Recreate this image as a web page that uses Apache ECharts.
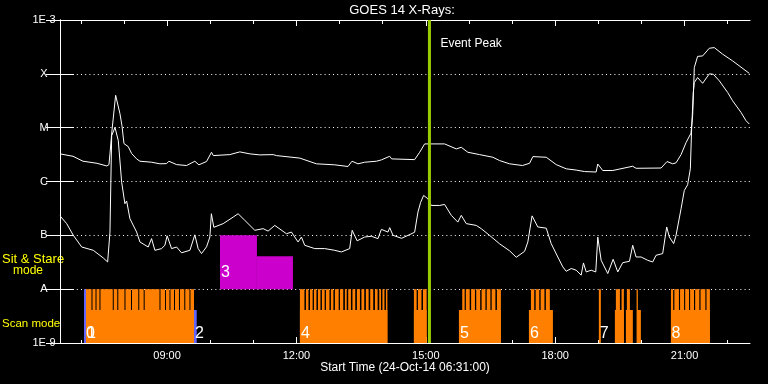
<!DOCTYPE html>
<html><head><meta charset="utf-8">
<script src="https://cdn.jsdelivr.net/npm/echarts@6/dist/echarts.min.js"></script>
<style>html,body{margin:0;padding:0;background:#000}#c{width:768px;height:384px}</style>
</head><body><div id="c"></div>
<script>
// Time axis in minutes since the start time 24-Oct-14 06:31:00
const START_MIN = 6 * 60 + 31;
const AXIS_MAX = 960;
const majorTicks = [149, 329, 509, 689, 869];            // 09:00 ... 21:00
const minorTicks = [29, 89, 209, 269, 389, 449, 569, 629, 749, 809, 929];
const yTickLabels = { '-9': '1E-9', '-8': 'A', '-7': 'B', '-6': 'C', '-5': 'M', '-4': 'X', '-3': '1E-3' };
const eventPeak = 514; // 15:05

// GOES 14 long channel (upper curve), W/m^2
const longTime = [0,18.1,32,51.4,65.3,68.1,69.5,72.3,77.4,83.4,86.2,89,91.7,94.9,99.7,106.6,111.2,127.4,139,148.3,151.5,162.2,176.1,187.6,193.2,203.9,210.8,213.3,236.3,250.2,264.1,278,296.5,301.2,333.6,356.8,382.2,400.7,406.3,414.6,423.9,440.2,447.1,458.7,461.4,493.4,500.4,507.3,514.3,535.1,551.4,558.3,567.5,583.8,602.2,611.6,625.5,643.5,653.3,657.9,676.5,690.4,704.3,718.2,729.7,745.9,748.2,755.1,769,796.8,801.5,836.3,844.6,852.4,857.1,864.1,871,877.9,880.2,882.5,887.1,894.1,903.4,910.3,921.9,935.8,959];
const longFlux = [3.26e-6,2.94e-6,2.38e-6,2.18e-6,1.94e-6,2.06e-6,3.26e-6,8.8e-6,4.0e-5,1.82e-5,1.09e-5,5.05e-6,4.84e-6,4.45e-6,3.30e-6,2.63e-6,2.38e-6,2.28e-6,2.13e-6,2.15e-6,2.38e-6,2.06e-6,1.98e-6,2.38e-6,2.04e-6,2.35e-6,3.49e-6,3.03e-6,3.16e-6,3.55e-6,3.26e-6,3.12e-6,3.16e-6,3.03e-6,2.72e-6,2.13e-6,2.04e-6,1.90e-6,2.38e-6,2.13e-6,2.28e-6,2.38e-6,2.52e-6,2.94e-6,2.63e-6,2.55e-6,3.49e-6,4.99e-6,4.99e-6,4.99e-6,4.03e-6,4.32e-6,3.49e-6,3.16e-6,2.82e-6,2.45e-6,2.13e-6,1.98e-6,2.18e-6,2.90e-6,2.82e-6,2.06e-6,1.72e-6,1.63e-6,1.53e-6,1.50e-6,2.11e-6,1.60e-6,1.60e-6,1.92e-6,1.76e-6,1.78e-6,2.35e-6,2.13e-6,2.22e-6,3.16e-6,5.27e-6,7.91e-6,1.67e-5,1.31e-4,2.11e-4,2.15e-4,2.99e-4,3.07e-4,2.32e-4,1.74e-4,1.02e-4];

// GOES 14 short channel (lower curve), W/m^2
const shortTime = [0,9.3,18.5,30.2,46.3,60.2,66.3,69.5,71.9,76.5,81.1,85.8,90.3,92.7,94.9,97.3,106.6,111.2,122.7,127.4,132,141.3,145.9,149.1,155.2,162.2,169.1,180.7,187.6,192.2,196.9,203.9,208.5,210.6,214,227,240.9,247.8,257.1,271,282.6,289.5,298.8,315.1,322,331.2,335.9,340.5,354.4,368.3,382.2,391.5,403,406.5,413.4,423.9,433.2,442.4,447.1,456.3,458.7,463.3,475.3,493.4,498,501.7,505.9,511.9,516.6,528.2,535.1,544.4,553.5,558.3,565.2,579.1,586.1,597.6,611.6,625.5,634.8,646.4,650.9,656.8,664.8,676.5,683.4,692.6,699.6,704.3,711.3,718.2,725.1,728.3,732.1,739,745.4,748.2,752.9,762.1,769.6,776,782.9,792.3,796.8,801.5,808.5,817.6,824.6,829.3,838.5,844.1,847.8,853.8,857.1,864.1,868.6,873.2,877,878.8,881.1,882.5,887.1,894.1,903.4,909,917.3,928.9,935.8,947.5,954.4,959];
const shortFlux = [2.30e-7,1.65e-7,1.00e-7,6.07e-8,5.27e-8,3.80e-8,3.20e-8,1.15e-7,7.11e-6,1.01e-5,5.74e-6,9.7e-7,3.86e-7,4.35e-7,4.14e-7,2.04e-7,1.15e-7,7.52e-8,6.07e-8,8.69e-8,5.27e-8,5.67e-8,6.53e-8,9.8e-8,5.67e-8,6.07e-8,4.74e-8,5.27e-8,1.02e-7,5.67e-8,4.58e-8,6.12e-8,9.3e-8,2.52e-7,1.41e-7,1.65e-7,2.18e-7,2.52e-7,1.90e-7,1.24e-7,1.33e-7,1.20e-7,1.53e-7,1.07e-7,1.15e-7,7.52e-8,9.3e-8,6.53e-8,5.67e-8,5.67e-8,5.27e-8,4.91e-8,5.67e-8,1.24e-7,7.91e-8,9.3e-8,9.6e-8,8.69e-8,1.29e-7,1.15e-7,1.39e-7,1.00e-7,8.8e-8,1.14e-7,2.70e-7,4.08e-7,5.51e-7,4.78e-7,3.59e-7,3.59e-7,3.75e-7,2.35e-7,1.76e-7,2.35e-7,1.65e-7,1.53e-7,1.33e-7,1.00e-7,6.96e-8,5.16e-8,3.91e-8,5.05e-8,7.52e-8,2.30e-7,1.43e-7,1.36e-7,7.02e-8,3.96e-8,2.59e-8,2.15e-8,2.42e-8,2.25e-8,1.82e-8,3.07e-8,2.09e-8,2.25e-8,2.09e-8,9.3e-8,3.44e-8,1.95e-8,3.59e-8,2.09e-8,3.10e-8,3.30e-8,6.53e-8,3.96e-8,3.96e-8,3.44e-8,3.20e-8,4.26e-8,4.58e-8,1.43e-7,9.3e-8,7.02e-8,1.00e-7,3.12e-7,6.81e-7,8.69e-7,1.72e-6,9.46e-6,4.51e-5,6.90e-5,8.54e-5,6.67e-5,1.00e-4,9.8e-5,7.42e-5,4.51e-5,3.16e-5,1.92e-5,1.35e-5,1.17e-5];

// Observation bars: [start, end, top] (minutes since start, flux level)
const scanFloor = 1e-9;
const scanTall = [[36.2,43.8],[45.2,49.4],[50.8,54.9],[56.3,73.4],[74.8,79.7],[81.1,89.7],[91.1,98.8],[100.2,108.9],[110.3,116.4],[117.8,138.4],[139.8,146.1],[147.4,152.3],[153.7,158.6],[160,165.5],[166.9,172.9],[174.3,180.1],[181.5,186.4],
  [333.8,340.1],[342.2,345.7],[347.8,351.5],[353.3,356.8],[358.9,362.4],[364.4,368.2],[370,374.9],[376.9,380.4],[382.5,387.7],[389.5,394.1],[396.4,398.9],[401,404.8],[406.9,410.8],[413.1,417.3],[419.4,423.3],[425.6,429.4],[431.6,435.8],[438.2,441.9],[444.2,446.6],[448.6,451.4],[453.5,455.5],
  [492.4,496.2],[498,502.9],[505,510.1],
  [559.6,563],[564.7,570],[572,577.3],[579.1,584.6],[586.6,591.9],[593.7,598.8],[600.6,605.8],[607.9,613.4],
  [655.2,659.8],[661.8,666.8],[668.7,674],[676,681.5],
  [749.7,752.5],[773.4,779],[781.3,784.5],[788.7,792.9],[802.2,804],
  [850,853.1],[854.8,861.1],[862.7,868.3],[869.8,875.2],[876.7,882.1],[883.7,889.5],[891.2,897.9],[899.5,904.2]];
const scanTallTop = 1e-8;
const scanBase = [[36.2,186.4],[333.8,455.5],[492.4,510.1],[555,613.4],[652.4,685.8],[772,784.5],[787.3,797],[803,808.2],[850,904.2]];
const scanBaseTop = 4.1e-9;
const sitFloor = 1e-8;
const sitStare = [[222.6,274,1e-7],[274,324.1,4.1e-8]];
const blueMarks = [[33.4,36.2,1e-8],[186.4,190.2,4.1e-9]];
const blockLabels = [['0',36.2,1.5e-9],['1',37.6,1.5e-9],['2',187.8,1.5e-9],['3',224,2e-8],['4',335.2,1.5e-9],['5',556.4,1.5e-9],['6',653.8,1.5e-9],['7',751.1,1.5e-9],['8',850.7,1.5e-9]];

function zip(a, b) { return a.map((v, i) => [v, b[i]]); }
function clock(v) {
  const t = START_MIN + Math.round(v);
  const h = Math.floor(t / 60) % 24, m = t % 60;
  return String(h).padStart(2, '0') + ':' + String(m).padStart(2, '0');
}
function rectSeries(name, rows, bottom, color, topDefault) {
  return {
    type: 'custom', name, xAxisIndex: 0, yAxisIndex: 0, z: 3,
    data: rows.map(r => [r[0], r[1], bottom, r.length > 2 ? r[2] : topDefault]),
    encode: { x: [0, 1], y: [2, 3] },
    renderItem: (params, api) => {
      const p0 = api.coord([api.value(0), api.value(2)]);
      const p1 = api.coord([api.value(1), api.value(3)]);
      return { type: 'rect', shape: { x: p0[0], y: p1[1], width: p1[0] - p0[0], height: p0[1] - p1[1] }, style: { fill: color } };
    }
  };
}

const FONT = 'Liberation Sans';
const chart = echarts.init(document.getElementById('c'), null, { renderer: 'canvas' });
const xCommon = { type: 'value', min: 0, max: AXIS_MAX, gridIndex: 0, splitLine: { show: false } };
const white = '#ffffff';
chart.setOption({
  backgroundColor: '#000000',
  animation: false,
  grid: { left: 60, right: 18, top: 20, bottom: 41 },
  xAxis: [
    Object.assign({}, xCommon, { position: 'bottom',
      axisLine: { show: true, lineStyle: { color: white, width: 1 } },
      axisTick: { show: true, inside: true, length: 6, customValues: majorTicks, lineStyle: { color: white } },
      axisLabel: { show: true, customValues: majorTicks, formatter: clock, color: white, fontSize: 11, fontFamily: FONT, margin: 7 } }),
    Object.assign({}, xCommon, { position: 'bottom',
      axisLine: { show: false },
      axisTick: { show: true, inside: true, length: 3, customValues: minorTicks, lineStyle: { color: white } },
      axisLabel: { show: false } }),
    Object.assign({}, xCommon, { position: 'top',
      axisLine: { show: true, lineStyle: { color: white, width: 1 } },
      axisTick: { show: true, inside: true, length: 6, customValues: majorTicks, lineStyle: { color: white } },
      axisLabel: { show: false } }),
    Object.assign({}, xCommon, { position: 'top',
      axisLine: { show: false },
      axisTick: { show: true, inside: true, length: 4, customValues: minorTicks, lineStyle: { color: white } },
      axisLabel: { show: false } })
  ],
  yAxis: [
    { type: 'log', logBase: 10, min: 1e-9, max: 1e-3, position: 'left',
      axisLine: { show: true, lineStyle: { color: white, width: 1 } },
      axisTick: { show: true, inside: true, length: 14, lineStyle: { color: white } },
      minorTick: { show: false },
      axisLabel: { color: white, fontSize: 11, fontFamily: FONT, align: 'center', verticalAlign: 'middle',
        verticalAlignMinLabel: 'middle', verticalAlignMaxLabel: 'middle', margin: 16,
        formatter: v => yTickLabels[String(Math.round(Math.log10(v)))] || '' },
      splitLine: { show: true, lineStyle: { color: white, width: 1, type: [1, 3.2] } } },
    { type: 'log', logBase: 10, min: 1e-9, max: 1e-3, position: 'right',
      axisLine: { show: true, lineStyle: { color: white, width: 1 } },
      axisTick: { show: true, inside: true, length: 14, lineStyle: { color: white } },
      axisLabel: { show: false }, splitLine: { show: false } }
  ],
  graphic: [
    { type: 'text', x: 402, y: 10, style: { text: 'GOES 14 X-Rays:', fill: white, font: '13px ' + FONT, align: 'center', verticalAlign: 'middle' } },
    { type: 'text', x: 405, y: 368, style: { text: 'Start Time (24-Oct-14 06:31:00)', fill: white, font: '12px ' + FONT, align: 'center', verticalAlign: 'middle' } },
    { type: 'text', x: 2, y: 259, style: { text: 'Sit & Stare', fill: '#ffff00', font: '13px ' + FONT, align: 'left', verticalAlign: 'middle' } },
    { type: 'text', x: 13, y: 271, style: { text: 'mode', fill: '#ffff00', font: '12px ' + FONT, align: 'left', verticalAlign: 'middle' } },
    { type: 'text', x: 2, y: 324, style: { text: 'Scan mode', fill: '#ffff00', font: '11.5px ' + FONT, align: 'left', verticalAlign: 'middle' } }
  ],
  series: [
    rectSeries('scanBase', scanBase, scanFloor, '#ff8000', scanBaseTop),
    rectSeries('scanTall', scanTall, scanFloor, '#ff8000', scanTallTop),
    rectSeries('sitStare', sitStare, sitFloor, '#cc00cc', 1e-7),
    rectSeries('blue', blueMarks, scanFloor, '#6464ff', 1e-8),
    { type: 'line', name: 'long', data: zip(longTime, longFlux), showSymbol: false, symbol: 'none', z: 4,
      lineStyle: { color: white, width: 1 }, itemStyle: { color: white } },
    { type: 'line', name: 'short', data: zip(shortTime, shortFlux), showSymbol: false, symbol: 'none', z: 4,
      lineStyle: { color: white, width: 1 }, itemStyle: { color: white } },
    { type: 'line', name: 'peak', data: [[eventPeak, 1e-9], [eventPeak, 1e-3]], showSymbol: false, symbol: 'none', z: 5,
      lineStyle: { color: '#9acd00', width: 3 } },
    { type: 'custom', name: 'peakLabel', z: 6, data: [[eventPeak, 1e-3]],
      renderItem: (params, api) => {
        const p = api.coord([api.value(0), api.value(1)]);
        return { type: 'text', x: p[0] + 11, y: p[1] + 24, style: { text: 'Event Peak', fill: white, font: '12px ' + FONT, align: 'left', verticalAlign: 'middle' } };
      } },
    { type: 'custom', name: 'blockLabels', z: 6, data: blockLabels.map(b => [b[1], b[2]]),
      renderItem: (params, api) => {
        const p = api.coord([api.value(0), api.value(1)]);
        return { type: 'text', x: p[0], y: p[1], style: { text: blockLabels[params.dataIndex][0], fill: white, font: '16px ' + FONT, align: 'left', verticalAlign: 'middle' } };
      } }
  ]
});
</script></body></html>
